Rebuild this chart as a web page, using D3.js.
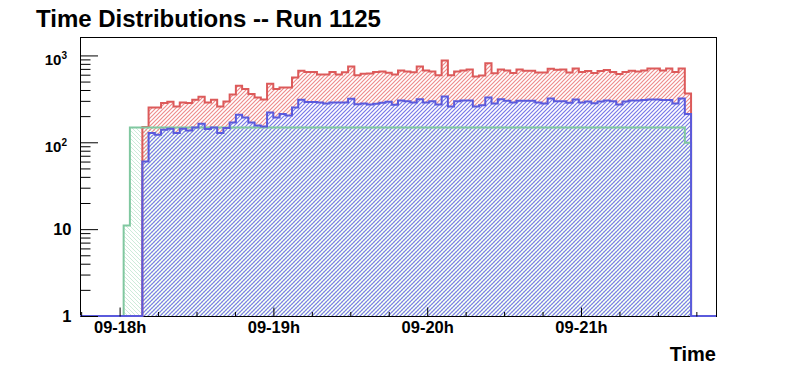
<!DOCTYPE html>
<html>
<head>
<meta charset="utf-8">
<script src="https://cdn.jsdelivr.net/npm/d3@7"></script>
<style>
  body { margin: 0; background: #fff; }
  svg { display: block; font-family: "Liberation Sans", Arial, Helvetica, sans-serif; font-weight: bold; }
</style>
</head>
<body>
<script>
// Time axis in hours of day 09 (17:44 .. 21:52), 102 equal bins
var timeStart = 17.7425;
var timeEnd = 21.8778;
var nBins = 102;

// Labels of the time axis
var hourTicks = [18, 19, 20, 21];
var hourLabels = ["09-18h", "09-19h", "09-20h", "09-21h"];

// y axis decades
var decadeTicks = [1, 10, 100, 1000];

// Counts per bin (bin 0 first)
var redCounts = [
  0, 0, 0, 0, 0, 0, 0, 0, 0, 0,
  150, 252, 252, 283, 293, 258, 287, 283, 309, 334,
  287, 309, 258, 295, 355, 448, 410, 359, 328, 311,
  472, 410, 428, 428, 558, 666, 644, 644, 604, 604,
  644, 604, 640, 747, 591, 615, 620, 644, 654, 632,
  604, 671, 654, 640, 745, 671, 654, 591, 876, 591,
  654, 671, 690, 571, 587, 813, 623, 690, 671, 627,
  690, 666, 666, 637, 637, 702, 684, 690, 637, 708,
  644, 661, 627, 661, 679, 644, 610, 644, 666, 654,
  671, 708, 708, 671, 708, 644, 708, 365, 0, 0,
  0, 0
];

var blueCounts = [
  0, 0, 0, 0, 0, 0, 0, 0, 0, 0,
  60, 128, 122, 139, 143, 128, 143, 137, 148, 163,
  142, 148, 128, 146, 169, 207, 193, 169, 156, 152,
  220, 193, 211, 203, 252, 309, 290, 290, 287, 280,
  287, 287, 287, 317, 275, 280, 272, 278, 285, 293,
  270, 302, 297, 287, 314, 287, 297, 272, 337, 258,
  297, 302, 302, 258, 267, 328, 280, 314, 301, 287,
  300, 300, 300, 287, 280, 320, 297, 297, 285, 311,
  287, 294, 281, 295, 302, 297, 272, 295, 303, 303,
  306, 311, 311, 306, 306, 280, 319, 211, 0, 0,
  0, 0
];

var greenCounts = [
  0, 0, 0, 0, 0, 0, 0, 11, 148, 148,
  148, 148, 148, 148, 148, 148, 148, 148, 148, 148,
  148, 148, 148, 148, 148, 148, 148, 148, 148, 148,
  148, 148, 148, 148, 148, 148, 148, 148, 148, 148,
  148, 148, 148, 148, 148, 148, 148, 148, 148, 148,
  148, 148, 148, 148, 148, 148, 148, 148, 148, 148,
  148, 148, 148, 148, 148, 148, 148, 148, 148, 148,
  148, 148, 148, 148, 148, 148, 148, 148, 148, 148,
  148, 148, 148, 148, 148, 148, 148, 148, 148, 148,
  148, 148, 148, 148, 148, 148, 148, 99, 0, 0,
  0, 0
];

var svgWidth = 796;
var svgHeight = 372;
var frame = { left: 80, right: 716, top: 37, bottom: 316 };

var svg = d3.select("body").append("svg")
  .attr("width", svgWidth)
  .attr("height", svgHeight);

var x = d3.scaleLinear().domain([timeStart, timeEnd]).range([frame.left, frame.right]);
var y = d3.scaleLog().domain([1, 1630]).range([frame.bottom, frame.top]);
var binWidth = (timeEnd - timeStart) / nBins;

// hatch patterns (diagonal lines), aligned on the page
var defs = svg.append("defs");
function hatch(id, color, forward, width, opaque) {
  var p = defs.append("pattern")
    .attr("id", id)
    .attr("patternUnits", "userSpaceOnUse")
    .attr("width", 4).attr("height", 4);
  if (opaque) {
    p.append("rect").attr("width", 4).attr("height", 4).attr("fill", "#fff");
  }
  p.append("path")
    .attr("d", forward ? "M-1,1 L1,-1 M0,4 L4,0 M3,5 L5,3" : "M-1,3 L1,5 M0,0 L4,4 M3,-1 L5,1")
    .attr("stroke", color)
    .attr("stroke-width", width);
}
hatch("hRed", "#ee8c8c", true, 1.2, false);
hatch("hBlue", "#7878e8", true, 1.2, true);
hatch("hGreen", "#a4dabc", false, 0.55, false);

// frame
svg.append("rect")
  .attr("x", frame.left + 0.5).attr("y", frame.top + 0.5)
  .attr("width", frame.right - frame.left)
  .attr("height", frame.bottom - frame.top)
  .attr("fill", "none").attr("stroke", "#000").attr("stroke-width", 1);

function yPos(v) { return v > 0 ? y(v) : frame.bottom; }

function stepPoints(counts) {
  var pts = counts.map(function(v, i) { return [x(timeStart + i * binWidth), yPos(v)]; });
  pts.push([x(timeEnd), yPos(counts[counts.length - 1])]);
  return pts;
}

var area = d3.area().curve(d3.curveStepAfter)
  .x(d => d[0]).y0(frame.bottom).y1(d => d[1]);
var line = d3.line().curve(d3.curveStepAfter)
  .x(d => d[0]).y(d => d[1]);

var red = { counts: redCounts, color: "#dc5a5a", fill: "url(#hRed)" };
var blue = { counts: blueCounts, color: "#5a5adc", fill: "url(#hBlue)" };
var green = { counts: greenCounts, color: "#80c8a0", fill: "url(#hGreen)" };

var histGroup = svg.append("g");
[red, blue, green].forEach(function(h) {
  histGroup.append("path")
    .attr("d", area(stepPoints(h.counts)))
    .attr("fill", h.fill);
});
// outlines: blue last so its baseline stays on top
[red, green, blue].forEach(function(h) {
  histGroup.append("path")
    .attr("d", line(stepPoints(h.counts)))
    .attr("fill", "none")
    .attr("stroke", h.color)
    .attr("stroke-width", 2);
});

// x axis ticks (drawn inward)
var quarterTicks = d3.range(17.75, 21.9, 0.25).filter(t => hourTicks.indexOf(t) < 0);

var xMinor = svg.append("g")
  .attr("transform", `translate(0, ${frame.bottom + 0.5})`)
  .call(d3.axisBottom(x).tickValues(quarterTicks).tickSize(-4.5).tickFormat(""));
var xMajor = svg.append("g")
  .attr("transform", `translate(0, ${frame.bottom + 0.5})`)
  .call(d3.axisBottom(x).tickValues(hourTicks).tickSize(-9).tickPadding(5)
    .tickFormat((d, i) => hourLabels[i]));
[xMinor, xMajor].forEach(function(g) {
  g.select(".domain").remove();
  g.selectAll("line").attr("stroke", "#000");
  g.selectAll("text")
    .attr("font-family", null)
    .style("font-size", "16.5px")
    .style("font-weight", "bold")
    .attr("fill", "#000");
});

// y axis ticks (drawn inward)
var minorY = [];
[1, 10, 100, 1000].forEach(function(dec) {
  for (var k = 2; k <= 9; k++) {
    if (dec * k <= 1630) minorY.push(dec * k);
  }
});
var yMinor = svg.append("g")
  .attr("transform", `translate(${frame.left + 0.5}, 0)`)
  .call(d3.axisLeft(y).tickValues(minorY).tickSize(-10).tickFormat(""));
var yMajor = svg.append("g")
  .attr("transform", `translate(${frame.left + 0.5}, 0)`)
  .call(d3.axisLeft(y).tickValues(decadeTicks).tickSize(-17.5).tickFormat(""));
[yMinor, yMajor].forEach(function(g) {
  g.select(".domain").remove();
  g.selectAll("line").attr("stroke", "#000");
});

// y labels: plain for 1 and 10, powers of ten above
decadeTicks.forEach(function(v) {
  var exp = Math.round(Math.log10(v));
  if (exp < 2) {
    svg.append("text")
      .attr("x", 71.5)
      .attr("y", y(v))
      .attr("dy", "0.35em")
      .attr("text-anchor", "end")
      .style("font-size", "16.5px")
      .text(String(v));
  } else {
    var t = svg.append("text")
      .attr("x", 67)
      .attr("y", y(v) + 9.5)
      .attr("text-anchor", "end");
    t.append("tspan").style("font-size", "15px").text("10");
    t.append("tspan").style("font-size", "10px").attr("dy", -6).text(String(exp));
  }
});

// title and axis title
svg.append("text")
  .attr("x", 36)
  .attr("y", 27)
  .style("font-size", "24px")
  .text("Time Distributions -- Run 1125");

svg.append("text")
  .attr("x", frame.right)
  .attr("y", 361)
  .attr("text-anchor", "end")
  .style("font-size", "20px")
  .text("Time");
</script>
</body>
</html>
